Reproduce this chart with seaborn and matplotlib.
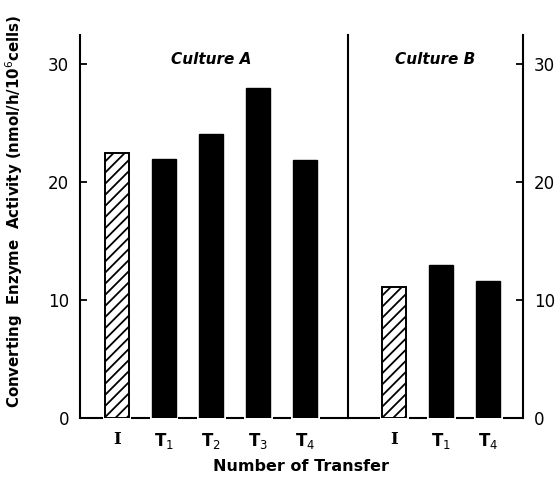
import matplotlib
matplotlib.use("Agg")
import matplotlib.pyplot as plt
import seaborn as sns

# data
labels_a = ["I", "T$_1$", "T$_2$", "T$_3$", "T$_4$"]
values_a = [22.5, 22.0, 24.1, 28.0, 21.9]
labels_b = ["I", "T$_1$", "T$_4$"]
values_b = [11.1, 13.0, 11.6]
yticks = [0, 10, 20, 30]

BAR_W = 0.51
GAP = 0.05

sns.set_style("ticks")
plt.rcParams["font.family"] = ["DejaVu Sans"]
plt.rcParams["hatch.linewidth"] = 1.3
plt.rcParams["text.color"] = "black"
plt.rcParams["xtick.color"] = "black"
plt.rcParams["ytick.color"] = "black"
plt.rcParams["axes.edgecolor"] = "black"
plt.rcParams["axes.labelcolor"] = "black"

fig = plt.figure(figsize=(5.59, 4.78), dpi=100)
ax_a = fig.add_axes([0.1431, 0.1255, 0.4794, 0.8013])
ax_b = fig.add_axes([0.6225, 0.1255, 0.3131, 0.8013], sharey=ax_a)
ax_b.set_facecolor("none")
ax_a.set_zorder(2)
ax_a.set_facecolor("none")


def draw_panel(ax, labels, values, xlim, title, title_x):
    sns.barplot(x=labels, y=values, ax=ax, color="black", width=BAR_W,
                edgecolor="black", linewidth=1, saturation=1)
    first = ax.patches[0]
    first.set_facecolor("white")
    first.set_hatch("///")
    first.set_linewidth(1.4)
    ax.set_xlim(*xlim)
    ax.set_ylim(0, 32.5)
    # baseline drawn in pieces between the bars
    edges = [xlim[0]]
    for i in range(len(values)):
        edges += [i - BAR_W / 2 - GAP, i + BAR_W / 2 + GAP]
    edges.append(xlim[1])
    for x0, x1 in zip(edges[::2], edges[1::2]):
        ax.plot([x0, x1], [0, 0], color="black", lw=1.5, clip_on=False,
                solid_capstyle="butt")
    ax.text(title_x, 30.4, title, ha="center", va="center", fontsize=11,
            style="italic", fontweight="bold")
    ax.spines["top"].set_visible(False)
    ax.spines["bottom"].set_visible(False)
    ax.tick_params(axis="x", length=0, labelsize=12, pad=9)
    for t in ax.get_xticklabels():
        t.set_fontweight("bold")
        if t.get_text() == "I":
            t.set_fontfamily("DejaVu Serif")


draw_panel(ax_a, labels_a, values_a, (-0.79, 4.91), "Culture A", 2.0)
draw_panel(ax_b, labels_b, values_b, (-0.99, 2.74), "Culture B", 0.87)

for sp in ["left", "right"]:
    ax_a.spines[sp].set_linewidth(1.5)
ax_b.spines["left"].set_visible(False)
ax_b.spines["right"].set_linewidth(1.5)

ax_a.set_yticks(yticks)
ax_a.tick_params(axis="y", direction="in", length=5, width=1.3, labelsize=12,
                 pad=8, left=True, right=False)
ax_b.yaxis.tick_right()
ax_b.tick_params(axis="y", direction="in", length=5, width=1.3, labelsize=12,
                 pad=8, left=False, right=True, labelright=True, labelleft=False)

ax_a.set_ylabel("Converting  Enzyme  Activity (nmol/h/10$^6$cells)",
                fontsize=10.8, fontweight="bold")
ax_a.yaxis.set_label_coords(-0.205, 0.54)
fig.text(0.539, 0.008, "Number of Transfer", ha="center", va="bottom",
         fontsize=11.5, fontweight="bold")

fig.savefig("out.png", dpi=100)
